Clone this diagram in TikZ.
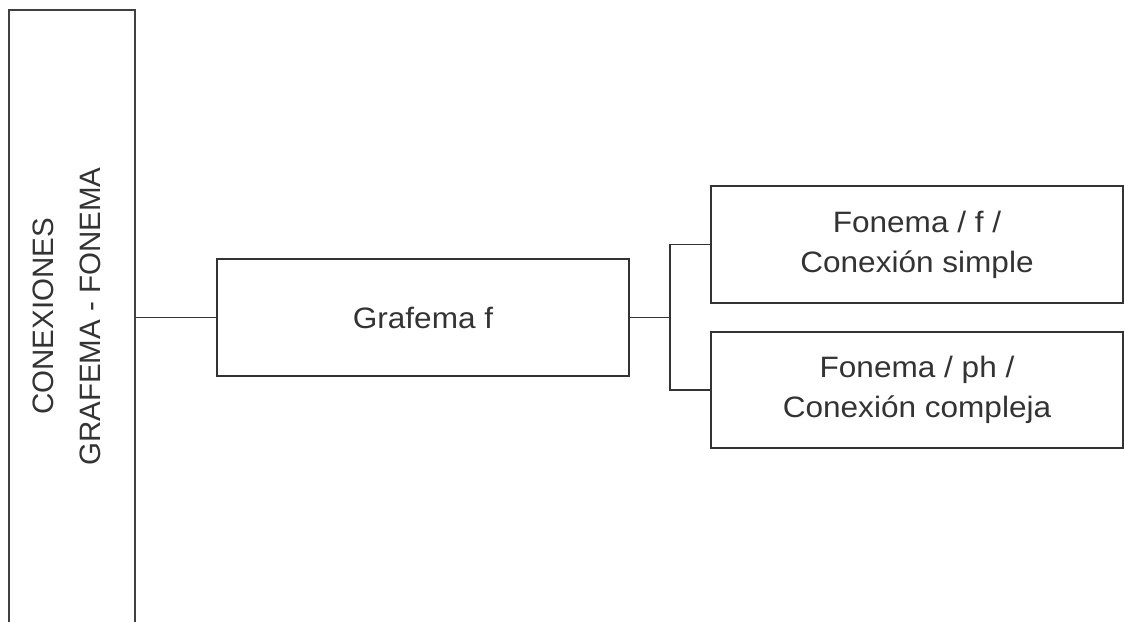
\documentclass[tikz,border=0pt]{standalone}
\usepackage{fontspec}
\setmainfont{Liberation Sans}
\newfontfamily\widefont[FakeStretch=1.07]{Liberation Sans}
\begin{document}
\begin{tikzpicture}[x=1pt,y=-1pt,
  box/.style={draw=black!80, line width=1.6pt, rectangle, inner sep=0pt,
    minimum width=412pt, minimum height=117pt, align=center,
    text=black!80, font=\widefont\fontsize{29.5}{40}\selectfont},
  conn/.style={draw=black!80, line width=1.6pt}]
\useasboundingbox (0,0) rectangle (1124,621);
\clip (0,0) rectangle (1124,621);
\node[draw=black!75, line width=2pt, rectangle, inner sep=0pt,
  minimum width=126pt, minimum height=660pt] (L) at (72,340) {};
\node[rotate=90, align=center, text=black!80,
  font=\fontsize{29.5}{46.5}\selectfont] (LT) at (67,316.5) {CONEXIONES\\GRAFEMA - FONEMA};
\node[box] (G) at (423,317.5) {Grafema f};
\node[box] (A) at (917,244.5) {Fonema / f /\\Conexión simple};
\node[box, minimum height=116pt] (B) at (917,390) {Fonema / ph /\\Conexión compleja};
\coordinate (J) at (670,317.5);
\draw[conn] (L.east |- G.west) -- (G.west);
\draw[conn] (G.east) -- (J);
\draw[conn] (A.west) -| (J) |- (B.west);
\end{tikzpicture}
\end{document}
